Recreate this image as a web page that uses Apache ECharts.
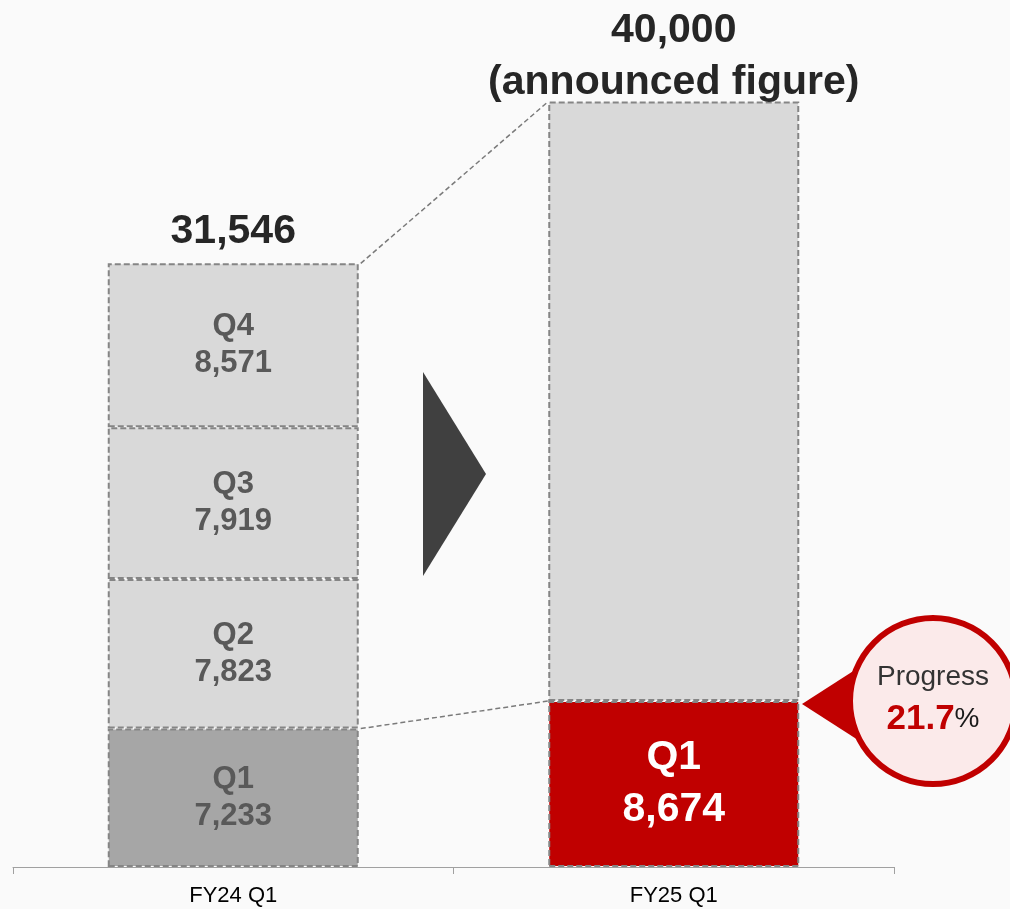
<!DOCTYPE html>
<html>
<head>
<meta charset="utf-8">
<script src="https://cdn.jsdelivr.net/npm/echarts@6/dist/echarts.min.js"></script>
<style>
  html, body { margin: 0; padding: 0; background: #fafafa; }
  #main { width: 1010px; height: 909px; }
</style>
</head>
<body>
<div id="main"></div>
<script>
// data
var categories = ['FY24 Q1', 'FY25 Q1'];
var quarters = ['Q1', 'Q2', 'Q3', 'Q4'];
var fy24Quarters = [7233, 7823, 7919, 8571];
var fy24Total = 31546;
var fy25Q1 = 8674;
var fy25Target = 40000;
var progressPct = 21.7;
var totalLabels = ['31,546', '40,000\n(announced figure)'];

var FONT = '"Liberation Sans", Arial, sans-serif';
var BAR_W = 251;
var GRAY = '#d9d9d9';
var DASH = { borderColor: '#858585', borderWidth: 2, borderType: [6, 3] };

function fmt(v) { return v.toLocaleString('en-US'); }

function segLabel(q, v) {
    return {
        show: true, position: 'inside',
        formatter: q + '\n' + fmt(v),
        color: '#595959', fontFamily: FONT, fontWeight: 'bold',
        fontSize: 31, lineHeight: 37
    };
}

var series = [];
quarters.forEach(function (q, i) {
    var left = {
        value: fy24Quarters[i],
        itemStyle: Object.assign({ color: i === 0 ? '#a6a6a6' : GRAY }, DASH),
        label: segLabel(q, fy24Quarters[i])
    };
    var right = '-';
    if (i === 0) {
        right = {
            value: fy25Q1,
            itemStyle: Object.assign({ color: '#c00000' }, DASH),
            label: {
                show: true, position: 'inside',
                formatter: q + '\n' + fmt(fy25Q1),
                color: '#ffffff', fontFamily: FONT, fontWeight: 'bold',
                fontSize: 41, lineHeight: 52
            }
        };
    } else if (i === 1) {
        right = {
            value: fy25Target - fy25Q1,
            itemStyle: Object.assign({ color: GRAY }, DASH),
            label: { show: false }
        };
    }
    series.push({
        name: q, type: 'bar', stack: 'total', barWidth: BAR_W,
        data: [left, right],
        z: 2
    });
});

// totals above bars
series.push({
    type: 'scatter', symbolSize: 0, silent: true,
    itemStyle: { opacity: 1 },
    data: [
        { value: [0, fy24Total], label: { distance: 6 } },
        { value: [1, fy25Target], label: { distance: -7 } }
    ],
    label: {
        show: true, position: 'top',
        formatter: function (p) { return totalLabels[p.dataIndex]; },
        color: '#262626', fontFamily: FONT, fontWeight: 'bold',
        fontSize: 41, lineHeight: 52
    },
    z: 5
});

// dashed connectors between bar corners
series.push({
    type: 'custom', silent: true,
    data: [[0, fy24Total, 1, fy25Target], [0, fy24Quarters[0], 1, fy25Q1]],
    encode: { x: [0, 2], y: [1, 3] },
    renderItem: function (params, api) {
        var p0 = api.coord([api.value(0), api.value(1)]);
        var p1 = api.coord([api.value(2), api.value(3)]);
        return {
            type: 'line',
            shape: { x1: p0[0] + BAR_W / 2 + 2, y1: p0[1], x2: p1[0] - BAR_W / 2, y2: p1[1] },
            style: { stroke: '#7a7a7a', lineWidth: 1.5, lineDash: [5, 3] }
        };
    },
    z: 3
});

var chart = echarts.init(document.getElementById('main'));
chart.setOption({
    backgroundColor: '#fafafa',
    animation: false,
    grid: { left: 13, right: 116, top: 25, bottom: 42, containLabel: false },
    xAxis: {
        type: 'category',
        data: categories,
        axisLine: { lineStyle: { color: '#a0a0a0', width: 1 } },
        axisTick: { show: true, length: 7, lineStyle: { color: '#a0a0a0' } },
        axisLabel: { color: '#000000', fontFamily: FONT, fontSize: 22, margin: 18 }
    },
    yAxis: {
        type: 'value', min: 0, max: 44000,
        show: false, splitLine: { show: false }
    },
    series: series,
    graphic: [
        {
            type: 'polygon', z: 1,
            shape: { points: [[423, 372], [486, 474], [423, 576]] },
            style: { fill: '#404040' }
        },
        {
            type: 'polygon', z: 10,
            shape: { points: [[802, 704], [858, 668], [858, 740]] },
            style: { fill: '#c00000' }
        },
        {
            type: 'circle', z: 11,
            shape: { cx: 933, cy: 701, r: 83 },
            style: { fill: '#fbeaea', stroke: '#c00000', lineWidth: 6 }
        },
        {
            type: 'text', z: 12, x: 933, y: 677,
            style: {
                text: 'Progress', align: 'center', verticalAlign: 'middle',
                fill: '#333333', font: '28px ' + FONT
            }
        },
        {
            type: 'text', z: 12, x: 933, y: 719,
            style: {
                text: '{a|' + progressPct.toFixed(1) + '}{b|%}',
                align: 'center', verticalAlign: 'middle',
                rich: {
                    a: { fill: '#c00000', fontFamily: FONT, fontWeight: 'bold', fontSize: 35 },
                    b: { fill: '#1a1a1a', fontFamily: FONT, fontSize: 28 }
                }
            }
        }
    ]
});
</script>
</body>
</html>
